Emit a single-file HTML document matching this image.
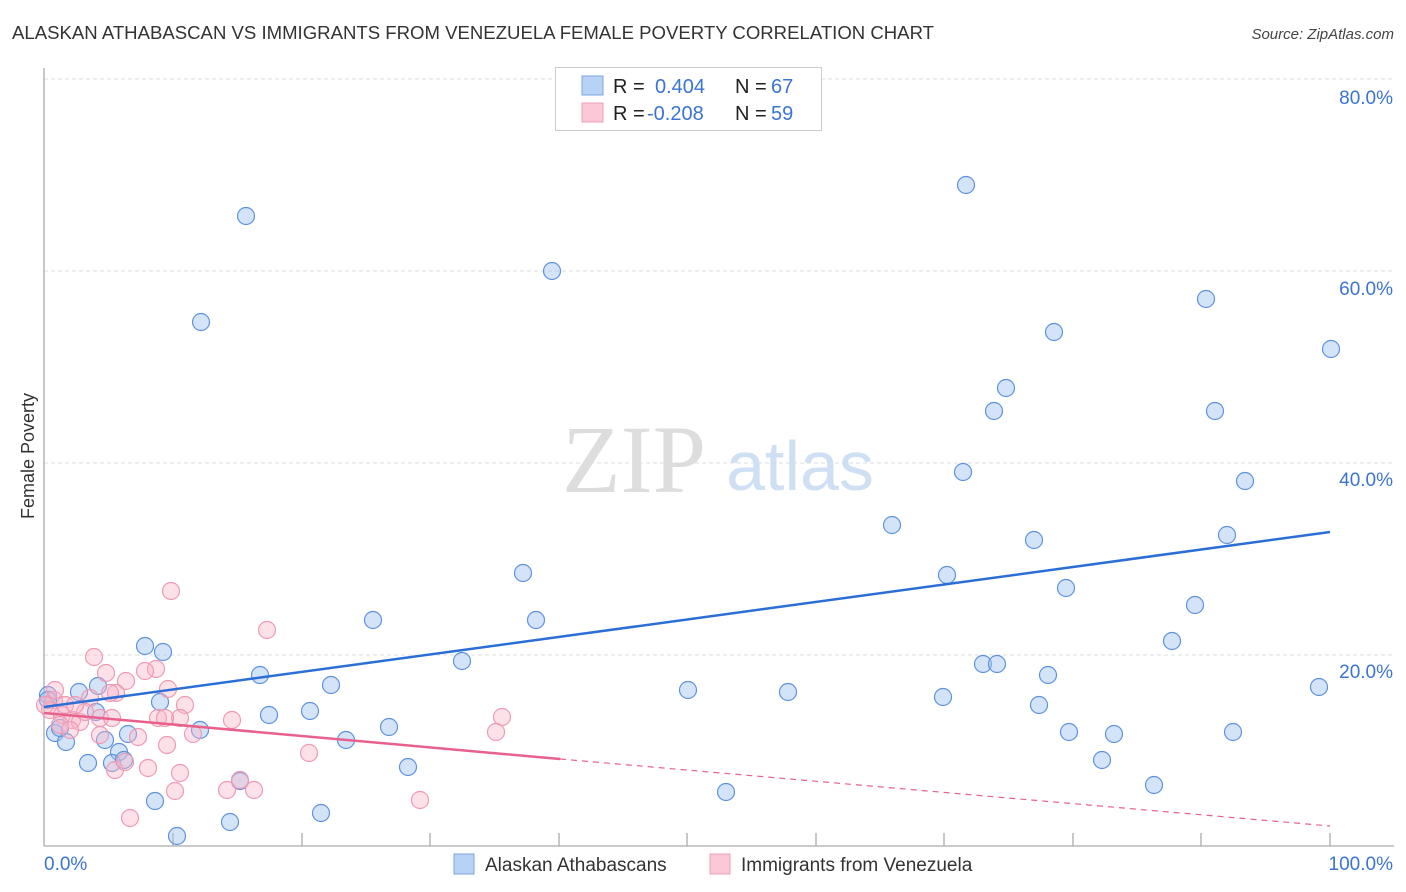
<!DOCTYPE html>
<html><head><meta charset="utf-8"><style>
body{margin:0;background:#fff;font-family:"Liberation Sans",sans-serif}
svg{display:block}
</style></head><body>
<svg id="s" width="1406" height="892" xmlns="http://www.w3.org/2000/svg" font-family="Liberation Sans, sans-serif">
<text x="12" y="39" font-size="18" fill="#333" textLength="922" lengthAdjust="spacingAndGlyphs">ALASKAN ATHABASCAN VS IMMIGRANTS FROM VENEZUELA FEMALE POVERTY CORRELATION CHART</text>
<text x="1394" y="39" font-size="15" fill="#444" font-style="italic" text-anchor="end">Source: ZipAtlas.com</text>
<g stroke="#ddd" stroke-dasharray="4,3" stroke-width="1">
<line x1="44" y1="79" x2="1394" y2="79"/><line x1="44" y1="271" x2="1394" y2="271"/>
<line x1="44" y1="463" x2="1394" y2="463"/><line x1="44" y1="655" x2="1394" y2="655"/>
</g>
<g stroke="#aaa" stroke-width="1.3">
<line x1="44" y1="68" x2="44" y2="846"/><line x1="44" y1="846" x2="1394" y2="846"/>
<line x1="173" y1="833" x2="173" y2="846"/><line x1="302" y1="833" x2="302" y2="846"/><line x1="430" y1="833" x2="430" y2="846"/><line x1="559" y1="833" x2="559" y2="846"/><line x1="687" y1="833" x2="687" y2="846"/><line x1="816" y1="833" x2="816" y2="846"/><line x1="944" y1="833" x2="944" y2="846"/><line x1="1073" y1="833" x2="1073" y2="846"/><line x1="1201" y1="833" x2="1201" y2="846"/><line x1="1330" y1="833" x2="1330" y2="846"/>
</g>
<text x="634" y="492" font-size="96" fill="#ddd" font-family="Liberation Serif, serif" text-anchor="middle">ZIP</text>
<text x="800" y="490" font-size="70" fill="#cfe0f5" text-anchor="middle">atlas</text>
<g font-size="19" fill="#3b74d1" text-anchor="end">
<text x="1393" y="104">80.0%</text><text x="1393" y="295">60.0%</text><text x="1393" y="486">40.0%</text><text x="1393" y="678">20.0%</text>
</g>
<text x="44" y="870" font-size="19" fill="#3b74d1">0.0%</text>
<text x="1393" y="870" font-size="19" fill="#3b74d1" text-anchor="end">100.0%</text>
<text transform="translate(34,456) rotate(-90)" font-size="18" fill="#333" text-anchor="middle">Female Poverty</text>
<g id="pts"></g>
<line x1="44" y1="707" x2="1330" y2="532" stroke="#2b6fd6" stroke-width="2.5"/>
<line x1="44" y1="713" x2="560" y2="759" stroke="#e8608c" stroke-width="2.5"/>
<line x1="560" y1="759" x2="1330" y2="826" stroke="#e8608c" stroke-width="1.2" stroke-dasharray="6,5"/>
<rect x="555.5" y="67.5" width="266" height="63" fill="#fff" stroke="#ccc"/>
<rect x="582" y="76" width="21" height="19" fill="#b8d2f5" stroke="#7ea6e0"/>
<rect x="582" y="103" width="21" height="19" fill="#fcc8d8" stroke="#efa0b8"/>
<g font-size="20" fill="#222"><text x="613" y="93">R =</text><text x="613" y="120">R =</text><text x="735" y="93">N =</text><text x="735" y="120">N =</text></g>
<g font-size="20" fill="#3b74d1"><text x="655" y="93">0.404</text><text x="647" y="120">-0.208</text><text x="771" y="93">67</text><text x="771" y="120">59</text></g>
<rect x="454" y="854" width="20" height="20" fill="#b8d2f5" stroke="#7ea6e0"/>
<text x="485" y="871" font-size="19" fill="#333">Alaskan Athabascans</text>
<rect x="710" y="854" width="20" height="20" fill="#fcc8d8" stroke="#efa0b8"/>
<text x="741" y="871" font-size="19" fill="#333">Immigrants from Venezuela</text>
</svg>
<script>
var B=[[246,216],[201,322],[552,271],[966,185],[1206,299],[1054,332],[1331,349],[1006,388],[994,411],[1215,411],[963,472],[1245,481],[892,525],[1227,535],[1034,540],[947,575],[523,573],[1066,588],[1195,605],[536,620],[373,620],[1172,641],[145,646],[163,652],[462,661],[983,664],[997,664],[260,675],[1048,675],[331,685],[98,686],[79,692],[688,690],[788,692],[943,697],[1319,687],[160,702],[48,695],[1039,705],[310,711],[269,715],[200,730],[389,727],[1069,732],[1114,734],[1233,732],[55,733],[66,742],[105,740],[119,752],[128,734],[346,740],[88,763],[112,763],[124,760],[1102,760],[408,767],[240,781],[155,801],[726,792],[1154,785],[321,813],[230,822],[177,836],[48,700],[60,728],[96,712]];
var P=[[171,591],[267,630],[94,657],[106,673],[156,669],[145,671],[126,681],[168,689],[116,693],[110,693],[90,698],[185,705],[54,700],[50,710],[62,715],[72,720],[80,722],[100,718],[112,718],[158,718],[180,718],[165,718],[232,720],[502,717],[193,734],[138,737],[496,732],[167,745],[100,735],[309,753],[148,768],[180,773],[115,770],[125,762],[240,780],[227,790],[254,790],[175,791],[420,800],[130,818],[60,725],[70,730],[85,712],[45,705],[55,690],[65,705],[75,705]];
var g=document.getElementById('pts'),h='';
B.forEach(function(p){h+='<circle cx="'+p[0]+'" cy="'+p[1]+'" r="8.5" fill="rgba(160,195,240,0.45)" stroke="#5f92dc" stroke-width="1.2"/>'});
P.forEach(function(p){h+='<circle cx="'+p[0]+'" cy="'+p[1]+'" r="8.5" fill="rgba(250,180,200,0.4)" stroke="#ee9ab4" stroke-width="1.2"/>'});
g.innerHTML=h;
</script>
</body></html>
